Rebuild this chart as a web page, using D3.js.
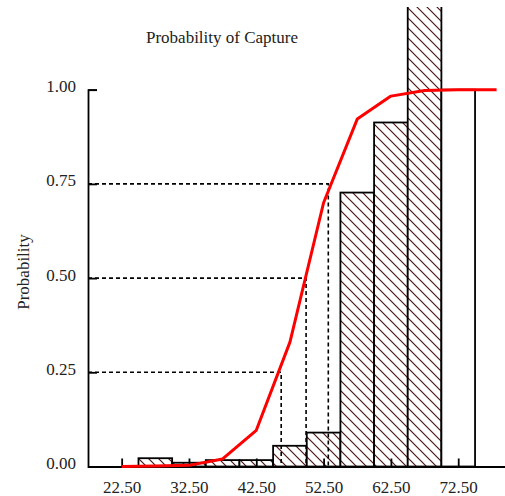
<!DOCTYPE html>
<html>
<head>
<meta charset="utf-8">
<script src="https://cdn.jsdelivr.net/npm/d3@7/dist/d3.min.js"></script>
<style>
    body { margin: 0; background: #fff; }
    svg { display: block; font-family: "Liberation Serif", "Times New Roman", serif; }
    .axis path, .axis line { stroke: #000; stroke-width: 1.8; }
    .axis text { font-size: 17px; fill: #222; font-family: "Liberation Serif", serif; }
</style>
</head>
<body>
<div id="chart"></div>
<script>
// Length bins (lower edge) and bar heights
const binStarts = [25, 30, 35, 40, 45, 50, 55, 60, 65, 70];
const binWidth = 5;
const binHeights = [0.022, 0.010, 0.017, 0.017, 0.055, 0.090, 0.727, 0.913, 1.30, 1.00];
const binHatched = [true, true, true, true, true, true, true, true, true, false];

// Capture probability curve
const curveLengths = [22.5, 27.5, 32.5, 37.5, 42.5, 47.5, 52.5, 57.5, 62.5, 67.5, 72.5, 78.2];
const curveProb = [0, 0.001, 0.003, 0.02, 0.096, 0.33, 0.70, 0.922, 0.983, 0.998, 1.0, 1.0];

// L25 / L50 / L75 reference lines
const captureLevels = [0.25, 0.50, 0.75];
const captureLengths = [46.2, 49.9, 53.2];

const xTicks = [22.5, 32.5, 42.5, 52.5, 62.5, 72.5];
const yTicks = [0, 0.25, 0.5, 0.75, 1];

const width = 505, height = 496;

const svg = d3.select("#chart")
    .append("svg")
    .attr("width", width)
    .attr("height", height);

const x = d3.scaleLinear().domain([17.5, 79.45]).range([88, 505]);
const y = d3.scaleLinear().domain([0, 1]).range([466.5, 89.7]);

// hatch pattern for the bars
const defs = svg.append("defs");
const hatch = defs.append("pattern")
    .attr("id", "hatch")
    .attr("patternUnits", "userSpaceOnUse")
    .attr("width", 10)
    .attr("height", 10);
hatch.append("rect").attr("width", 10).attr("height", 10).attr("fill", "#fff");
hatch.append("path")
    .attr("d", "M0,0 L10,10 M-2,8 L2,12 M8,-2 L12,2")
    .attr("stroke", "#4e1616")
    .attr("stroke-width", 1.2);

defs.append("clipPath")
    .attr("id", "plot-clip")
    .append("rect")
    .attr("x", 0).attr("y", 7)
    .attr("width", width).attr("height", height);

// Title
svg.append("text")
    .attr("x", 222)
    .attr("y", 43)
    .attr("text-anchor", "middle")
    .attr("font-size", 17)
    .attr("fill", "#222")
    .text("Probability of Capture");

// Y label
svg.append("text")
    .attr("transform", "translate(29,272) rotate(-90)")
    .attr("text-anchor", "middle")
    .attr("font-size", 17)
    .attr("fill", "#222")
    .text("Probability");

// Bars
svg.append("g")
    .attr("clip-path", "url(#plot-clip)")
    .selectAll("rect")
    .data(binStarts)
    .join("rect")
    .attr("x", d => x(d))
    .attr("y", (d, i) => y(binHeights[i]))
    .attr("width", d => x(d + binWidth) - x(d))
    .attr("height", (d, i) => y(0) - y(binHeights[i]))
    .attr("fill", (d, i) => binHatched[i] ? "url(#hatch)" : "#fff")
    .attr("stroke", "#000")
    .attr("stroke-width", 1.8);

// Dashed reference lines
const refs = svg.append("g")
    .attr("fill", "none")
    .attr("stroke", "#000")
    .attr("stroke-width", 1.6)
    .attr("stroke-dasharray", "4,3");

captureLevels.forEach((p, i) => {
    refs.append("path")
        .attr("d", `M${x.range()[0]},${y(p)} H${x(captureLengths[i])} V${y(0)}`);
});

// Axes
const yAxis = d3.axisLeft(y)
    .tickValues(yTicks)
    .tickFormat(d3.format(".2f"))
    .tickSizeInner(-9)
    .tickSizeOuter(-9)
    .tickPadding(12);

svg.append("g")
    .attr("class", "axis")
    .attr("transform", `translate(${x.range()[0]},0)`)
    .call(yAxis)
    .call(g => g.selectAll("text").attr("dy", "0.12em"));

const xAxis = d3.axisBottom(x)
    .tickValues(xTicks)
    .tickFormat(d3.format(".2f"))
    .tickSizeInner(-8)
    .tickSizeOuter(0)
    .tickPadding(14);

svg.append("g")
    .attr("class", "axis")
    .attr("transform", `translate(0,${y(0)})`)
    .call(xAxis);

// Capture curve
const line = d3.line()
    .x(d => x(d))
    .y((d, i) => y(curveProb[i]));

svg.append("path")
    .datum(curveLengths)
    .attr("d", line)
    .attr("fill", "none")
    .attr("stroke", "#ff0000")
    .attr("stroke-width", 3)
    .attr("stroke-linejoin", "round");
</script>
</body>
</html>
